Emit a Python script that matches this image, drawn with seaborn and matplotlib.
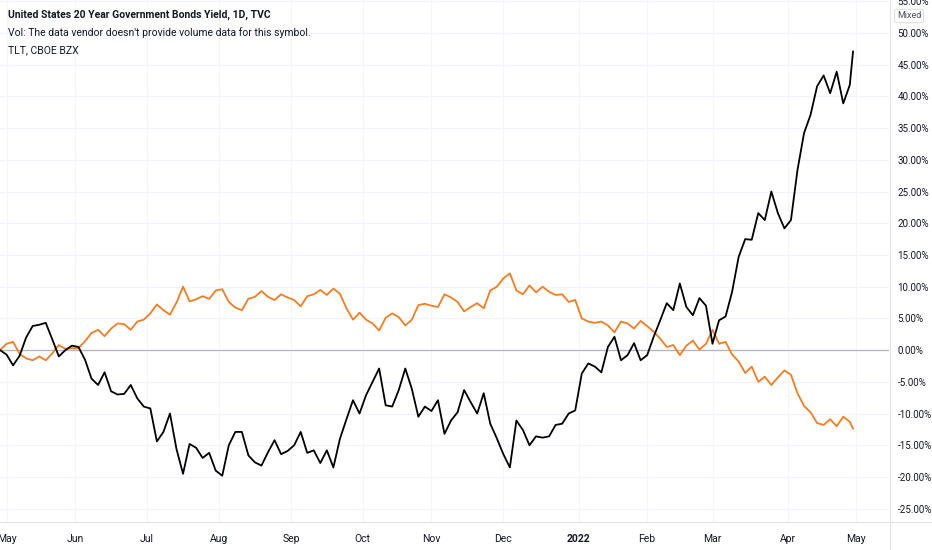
import numpy as np
import pandas as pd
import matplotlib
matplotlib.use("Agg")
import matplotlib.pyplot as plt
from matplotlib.lines import Line2D
import seaborn as sns

# trading-day calendar, values sampled every 2nd bar (plus the last bar)
CALENDAR = pd.bdate_range("2021-04-29", "2022-05-31")
SAMPLE_BARS = list(range(0, 261, 2)) + [261]

# US 20Y yield, % change from first bar
US20Y = [
    0.0, -0.7, -2.4, -0.9, 2.0, 3.8, 4.0, 4.3, 1.7, -1.0,
    0.0, 0.7, 0.5, -1.5, -4.5, -5.5, -3.5, -6.5, -7.0, -6.9,
    -5.5, -7.6, -8.9, -9.2, -14.4, -12.9, -10.0, -15.6, -19.5, -14.8,
    -15.4, -17.0, -16.2, -19.0, -19.8, -15.0, -12.9, -12.9, -16.6, -17.7,
    -18.2, -16.1, -14.2, -16.4, -15.9, -15.0, -12.9, -16.2, -15.8, -17.8,
    -15.8, -18.5, -14.0, -10.9, -7.9, -10.0, -7.1, -5.0, -2.9, -8.7,
    -8.9, -6.3, -2.9, -6.1, -10.5, -8.9, -9.6, -7.9, -13.2, -11.1,
    -9.8, -6.3, -8.2, -10.0, -6.8, -11.6, -13.9, -16.4, -18.5, -11.1,
    -12.6, -15.0, -13.6, -13.8, -13.6, -11.8, -11.6, -10.0, -9.5, -3.7,
    -2.1, -2.6, -3.5, 0.5, 2.1, -1.6, -0.8, 1.1, -1.6, -0.8,
    2.1, 4.7, 7.4, 6.3, 10.5, 6.8, 5.5, 8.2, 7.0, 1.0,
    4.7, 5.3, 9.2, 14.7, 17.5, 17.4, 21.6, 20.5, 25.0, 21.6,
    19.2, 20.5, 28.4, 34.2, 37.1, 41.6, 43.3, 40.5, 43.9, 38.9,
    41.8, 47.1,
]

# TLT, % change from first bar
TLT = [
    0.0, 1.0, 1.3, -0.6, -1.3, -1.6, -1.0, -1.6, -0.5, 0.8,
    0.2, 0.3, 0.3, 1.4, 2.7, 3.2, 2.2, 3.4, 4.2, 4.1,
    3.2, 4.5, 4.8, 5.8, 7.2, 6.3, 5.6, 7.5, 10.0, 7.7,
    8.0, 8.5, 8.1, 9.4, 9.6, 7.6, 6.7, 6.3, 8.1, 8.4,
    9.3, 8.4, 7.9, 8.8, 8.3, 7.9, 6.9, 8.5, 8.8, 9.5,
    8.7, 9.7, 8.9, 6.6, 4.8, 5.9, 4.8, 4.2, 3.1, 5.1,
    5.8, 5.2, 3.9, 4.8, 7.1, 7.3, 7.0, 6.8, 8.8, 8.3,
    7.6, 6.1, 6.8, 7.4, 6.6, 9.4, 10.0, 11.3, 12.1, 9.4,
    8.8, 10.2, 9.1, 10.0, 9.2, 8.7, 8.8, 7.6, 7.9, 5.0,
    4.5, 4.3, 4.5, 3.9, 2.8, 4.5, 4.2, 3.4, 4.6, 3.8,
    2.9, 1.8, 0.5, 0.8, -0.8, 0.7, 1.5, 0.1, 1.0, 3.2,
    1.0, 1.3, -0.7, -1.8, -3.6, -2.6, -5.0, -4.2, -5.5, -4.3,
    -3.2, -3.9, -6.8, -8.8, -9.8, -11.5, -11.8, -10.9, -12.0, -10.5,
    -11.3, -12.4,
]

TITLE = "United States 20 Year Government Bonds Yield, 1D, TVC"
LINE2 = "Vol: The data vendor doesn't provide volume data for this symbol."
LINE3 = "TLT, CBOE BZX"
Y_TICKS = np.arange(-25, 56, 5)

TEXT = "#131722"
GRID = "#f0f3fa"
BORDER = "#e0e3eb"

sns.set_style("white")
plt.rcParams["font.family"] = ["Roboto", "DejaVu Sans"]

df = pd.DataFrame({
    "bar": SAMPLE_BARS,
    "date": CALENDAR[SAMPLE_BARS],
    "us20y": US20Y,
    "tlt": TLT,
})

fig = plt.figure(figsize=(9.32, 5.5), dpi=100)
ax = fig.add_axes([0, 28 / 550, 889 / 932, 522 / 550])

# month ticks at first trading day of each month
month_bars = [i for i in range(1, len(CALENDAR)) if CALENDAR[i].month != CALENDAR[i - 1].month]
month_labels = ["2022" if CALENDAR[i].month == 1 else CALENDAR[i].strftime("%b") for i in month_bars]

for yv in Y_TICKS:
    ax.axhline(yv, color=GRID, lw=0.9, zorder=0)
for xv in month_bars:
    ax.axvline(xv, color="#f5f6fa", lw=0.8, zorder=0)
ax.axhline(0, color="#b2b5be", lw=0.9, zorder=1)

sns.lineplot(data=df, x="bar", y="tlt", color="#f57c20", lw=1.3, ax=ax, zorder=3)
sns.lineplot(data=df, x="bar", y="us20y", color="black", lw=1.3, ax=ax, zorder=4)

ax.set_xlim(0, 272)
ax.set_ylim(-27.1, 55.2)
ax.set_xlabel("")
ax.set_ylabel("")

ax.yaxis.tick_right()
ax.set_yticks(Y_TICKS)
ax.set_yticklabels([f"{v:.2f}%" for v in Y_TICKS])
ax.set_xticks(month_bars)
ax.set_xticklabels(month_labels)
ax.tick_params(axis="both", length=0, labelsize=7, colors=TEXT)
ax.tick_params(axis="y", pad=6)
ax.tick_params(axis="x", pad=9, labelsize=7.5)
for lbl in ax.get_xticklabels():
    if lbl.get_text() == "2022":
        lbl.set_fontweight("bold")

for side in ["top", "left", "right", "bottom"]:
    ax.spines[side].set_visible(False)

# chart frame: price scale border and time scale border
fig.add_artist(Line2D([889.5 / 932, 889.5 / 932], [0, 1], color=BORDER, lw=0.8))
fig.add_artist(Line2D([0, 1], [28 / 550, 28 / 550], color=BORDER, lw=0.8))

# legend block, top left
fig.text(8 / 932, 1 - 15 / 550, TITLE, fontsize=7.5, fontweight="bold", color=TEXT, va="center")
fig.text(8 / 932, 1 - 33 / 550, LINE2, fontsize=7.5, color=TEXT, va="center")
fig.text(8 / 932, 1 - 50 / 550, LINE3, fontsize=7.5, color=TEXT, va="center")

fig.text(909 / 932, 1 - 16 / 550, "Mixed", fontsize=6.5, color="#50535e", ha="center", va="center",
         bbox=dict(boxstyle="round,pad=0.25", fc="white", ec="#d1d4dc", lw=0.6))

fig.savefig("out.png", dpi=100)
